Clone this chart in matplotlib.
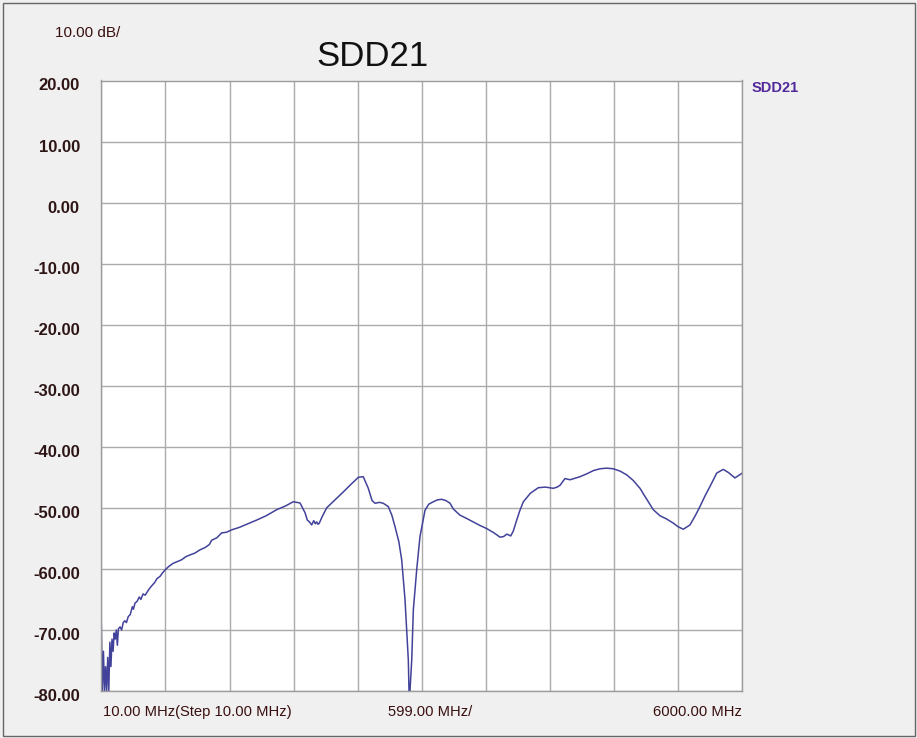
import numpy as np
import matplotlib
matplotlib.use('Agg')
import matplotlib.pyplot as plt
from matplotlib.patches import Rectangle
from matplotlib.transforms import ScaledTranslation

plt.rcParams['font.family'] = ['Liberation Sans', 'DejaVu Sans']

# Traced SDD21 trace (MHz, dB)
freq_mhz = [10, 20, 30, 40, 50, 60, 70, 80, 90, 100, 110, 120, 130, 140,
            150, 160, 170, 185, 200, 215, 230, 245, 262, 280, 300, 310, 325,
            345, 365, 380, 400, 420, 449, 470, 490, 510, 530, 560, 580, 605,
            640, 680, 720, 761, 800, 840, 886, 930, 980, 1020, 1042, 1090, 1135,
            1180, 1229, 1300, 1380, 1462, 1550, 1649, 1730, 1804, 1867, 1914,
            1935, 1955, 1976, 1995, 2010, 2023, 2035, 2047, 2070, 2116, 2200,
            2271, 2340, 2412, 2458, 2505, 2540, 2568, 2610, 2645, 2692, 2725,
            2755, 2790, 2817, 2848, 2879, 2888, 2911, 2926, 2957, 2988, 3035,
            3070, 3113, 3150, 3191, 3230, 3269, 3300, 3362, 3420, 3486, 3550,
            3612, 3680, 3736, 3770, 3799, 3836, 3860, 3892, 3920, 3954, 4020,
            4094, 4160, 4234, 4270, 4297, 4343, 4390, 4483, 4550, 4608, 4670,
            4733, 4795, 4860, 4920, 4980, 5044, 5100, 5168, 5231, 5290, 5355,
            5400, 5449, 5511, 5560, 5604, 5650, 5698, 5761, 5822, 5869, 5931,
            5965, 6000]
sdd21_db = [-69.0, -80.0, -73.5, -80.0, -76.0, -80.0, -74.5, -80.0, -72.0, -76.0,
            -71.5, -73.5, -70.5, -71.5,
            -70.0, -72.5, -69.8, -69.5, -70.0, -68.8, -68.5, -68.8, -67.8, -67.5,
            -66.2, -66.6, -65.6, -65.3, -64.6, -65.0, -64.1, -64.3, -63.5, -63.0,
            -62.6, -62.2, -61.6, -61.2, -60.7, -60.2,
            -59.6, -59.1, -58.8, -58.5, -58.0, -57.7, -57.4, -56.9, -56.5, -56.0,
            -55.3, -54.9, -54.1, -54.0, -53.6, -53.2, -52.6, -52.0, -51.3, -50.3,
            -49.7, -49.0, -49.2, -50.8, -52.0, -52.3, -52.8, -52.1, -52.6, -52.3,
            -52.7, -52.5, -51.6, -50.0, -48.6, -47.4, -46.2, -45.0, -44.9, -46.8,
            -48.8, -49.25, -49.1, -49.25, -49.8, -51.2, -53.1, -55.5, -58.5, -65.0,
            -74.9, -82.0, -74.9, -66.7, -60.2, -54.7, -50.4, -49.4, -49.0, -48.7,
            -48.6, -48.8, -49.25, -50.2, -51.2, -51.7, -52.3, -52.9, -53.4, -54.1,
            -54.8, -54.7, -54.3, -54.6, -53.8, -52.0, -50.5, -49.0, -47.6, -46.7,
            -46.6, -46.8, -46.6, -46.3, -45.2, -45.4, -44.9, -44.4, -43.9, -43.6,
            -43.5, -43.6, -44.0, -44.6, -45.5, -46.8, -48.4, -50.3, -51.3, -51.8,
            -52.5, -53.1, -53.5, -52.8, -51.3, -49.8, -48.1, -46.5, -44.3, -43.7,
            -44.2, -45.1, -44.7, -44.3]

y_ticks = [20, 10, 0, -10, -20, -30, -40, -50, -60, -70, -80]
x_start, x_step, x_stop = 10.0, 599.0, 6000.0

W, H = 917, 738
fig = plt.figure(figsize=(W / 100, H / 100), dpi=100, facecolor='#f0f0f0')
ax = fig.add_axes([101.3 / W, 47 / H, 641 / W, 610.5 / H])
ax.set_facecolor('white')

ax.plot(freq_mhz, sdd21_db, color='#42429a', lw=1.1)

ax.set_xlim(x_start, x_stop)
ax.set_ylim(-80, 20)
ax.set_xticks([x_start + k * x_step for k in range(11)])
ax.set_xticklabels([])
ax.set_yticks(y_ticks)
ax.set_yticklabels(['%.2f' % v for v in y_ticks], fontsize=12, fontweight='bold',
                   color='#2e1515')
ax.tick_params(axis='both', length=0)
ax.tick_params(axis='y', pad=15.5)
for lbl in ax.get_yticklabels():
    lbl.set_transform(lbl.get_transform() + ScaledTranslation(0, -0.04, fig.dpi_scale_trans))
ax.grid(True, color='#ababab', lw=1)
for s in ax.spines.values():
    s.set_color('#9c9c9c')
    s.set_linewidth(1)

# header / footer annotations
fig.text(372 / W, 1 - 56 / H, 'SDD21', fontsize=25, ha='center', va='center', color='#111111')
fig.text(55 / W, 1 - 33 / H, '10.00 dB/', fontsize=11, ha='left', va='center', color='#3a0f0f')
fig.text(752 / W, 1 - 88 / H, 'SDD21', fontsize=10.5, fontweight='bold', ha='left',
         va='center', color='#52299a')
fig.text(103 / W, 1 - 712 / H, '10.00 MHz(Step 10.00 MHz)', fontsize=10.6, ha='left',
         va='center', color='#3a0f0f')
fig.text(430 / W, 1 - 712 / H, '599.00 MHz/', fontsize=10.6, ha='center', va='center',
         color='#3a0f0f')
fig.text(742 / W, 1 - 712 / H, '6000.00 MHz', fontsize=10.6, ha='right', va='center',
         color='#3a0f0f')

fig.patches.append(Rectangle((2.5 / W, 2.5 / H), (W - 5) / W, (H - 5) / H, transform=fig.transFigure,
                             fill=False, edgecolor='#666666', lw=1))

fig.savefig('out.png', dpi=100, facecolor=fig.get_facecolor())
